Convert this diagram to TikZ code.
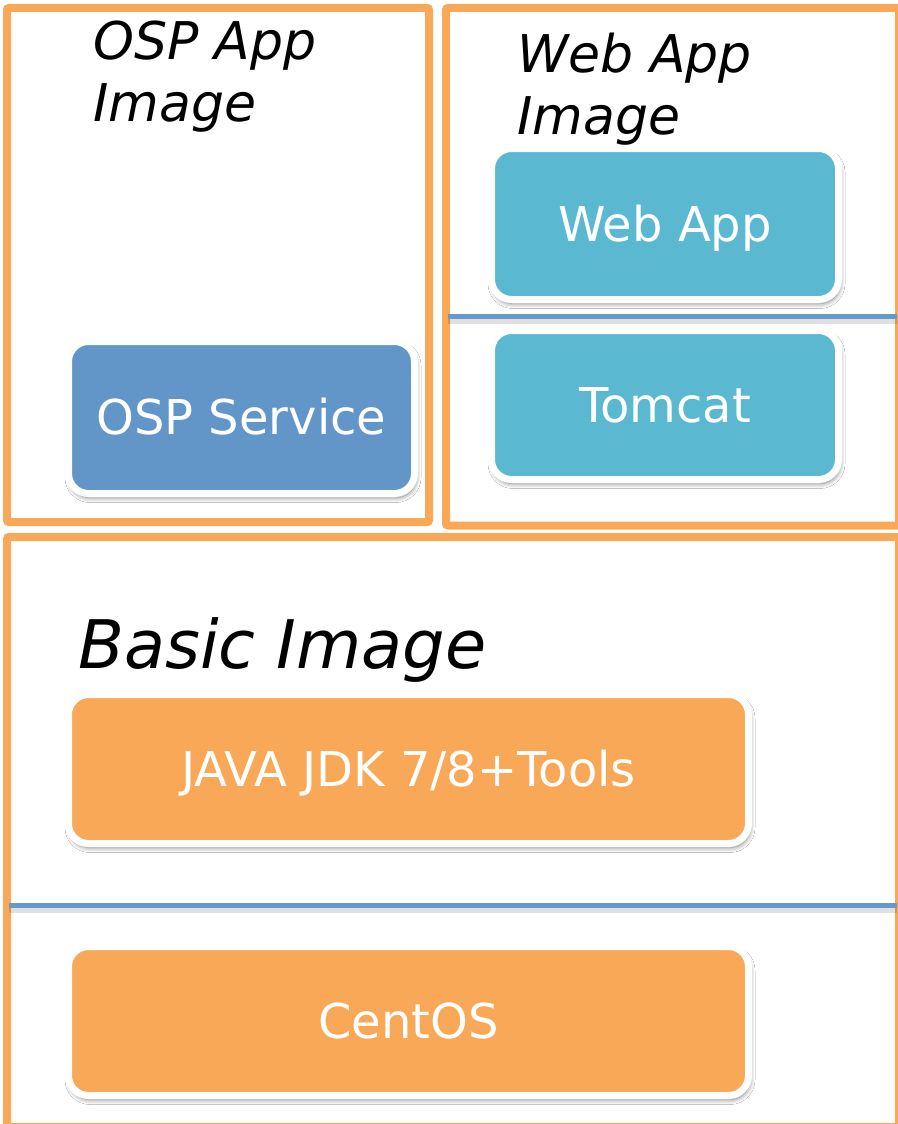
\documentclass[tikz,border=0pt]{standalone}
\usepackage{fontspec}
\setmainfont{DejaVu Sans}
\usetikzlibrary{shadows.blur}
\definecolor{frameorange}{HTML}{F9A857}
\definecolor{boxorange}{HTML}{F9A857}
\definecolor{ospblue}{HTML}{6396C8}
\definecolor{webteal}{HTML}{5BB8D1}
\definecolor{divblue}{HTML}{6399CB}
\begin{document}
\begin{tikzpicture}[x=1pt,y=-1pt,
  frame/.style={draw=frameorange, line width=8pt, rounded corners=2pt},
  layerbox/.style={draw=white, line width=7pt, rounded corners=20pt, inner sep=0pt,
    text=white, font=\fontsize{48}{56}\selectfont, text height=34pt, text depth=0pt,
    blur shadow={shadow xshift=1.5pt, shadow yshift=-4pt, shadow blur steps=10, shadow blur radius=5pt, shadow opacity=50}},
  title/.style={anchor=base west, inner sep=0pt, align=left, font=\itshape\fontsize{52}{62}\selectfont},
  divider/.style={draw=divblue, line width=5pt},
  dividershadow/.style={draw=black, opacity=0.12, line width=6pt}
]
\useasboundingbox (0,0) rectangle (897,1124);
\fill[white] (0,0) rectangle (897,1124);

% frames
\draw[frame] (7,8) rectangle (429,522);
\draw[frame] (446,8) rectangle (899,525.5);
\draw[frame] (7,537) rectangle (899,1127);

% titles (base anchor = baseline of the last line)
\node[title] (ospt) at (93,121) {OSP App\\Image};
\node[title] (webt) at (517,134) {Web App\\Image};
\node[title, font=\itshape\fontsize{67}{72}\selectfont] (basict) at (78,668) {Basic Image};

% dividers
\coordinate (wl) at (448,316);
\coordinate (wr) at (897,316);
\coordinate (bl) at (9,905);
\coordinate (br) at (897,905);
\draw[dividershadow] ([yshift=-5pt]wl) -- ([yshift=-5pt]wr);
\draw[dividershadow] ([yshift=-5pt]bl) -- ([yshift=-5pt]br);
\draw[divider] (wl) -- (wr);
\draw[divider] (bl) -- (br);

% boxes
\node[layerbox, fill=ospblue, minimum width=346pt, minimum height=152pt] (osp) at (241.5,417.5) {OSP Service};
\node[layerbox, fill=webteal, minimum width=347pt, minimum height=151pt] (web) at (665,224) {Web App};
\node[layerbox, fill=webteal, minimum width=347pt, minimum height=149pt] (tomcat) at (665,405) {Tomcat};
\node[layerbox, fill=boxorange, minimum width=680pt, minimum height=149pt] (java) at (408.5,769) {JAVA JDK 7/8+Tools};
\node[layerbox, fill=boxorange, minimum width=680pt, minimum height=149pt] (centos) at (408.5,1021) {CentOS};
\end{tikzpicture}
\end{document}
